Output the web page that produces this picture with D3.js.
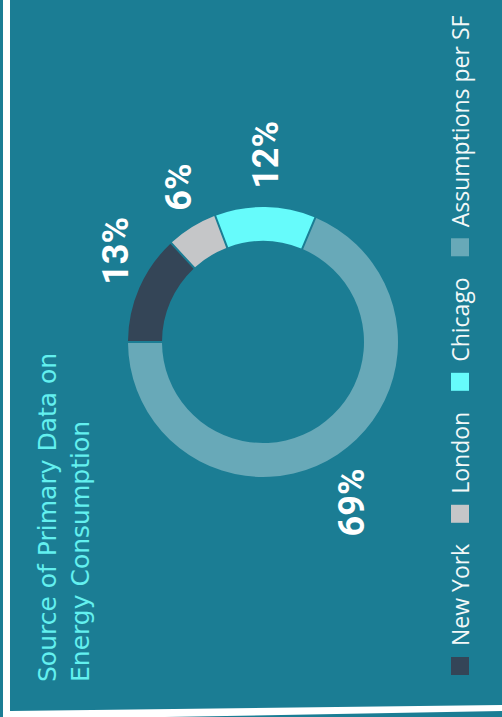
<!DOCTYPE html>
<html>
<head>
<meta charset="utf-8">
<script src="https://cdn.jsdelivr.net/npm/d3@7"></script>
<style>
  html, body { margin: 0; padding: 0; background: #1b7d94; }
  svg { display: block; }
</style>
</head>
<body>
<svg id="chart" width="502" height="717"></svg>
<script>
// data
const categories = ["New York", "London", "Chicago", "Assumptions per SF"];
const values = [13, 6, 12, 69];
const colors = ["#344557", "#c5c6c8", "#66fbfb", "#68a9b8"];
const titleLines = ["Source of Primary Data on", "Energy Consumption"];

const W = 502, H = 717;
const svg = d3.select("#chart");

// background + white frame strip
svg.append("rect").attr("width", W).attr("height", H).attr("fill", "#1b7d94");
svg.append("path")
  .attr("d", "M3,0 L10,0 L10,711 L502,705 L502,711 L165,717 L3,717 Z")
  .attr("fill", "#ffffff");

// donut (drawn in the original orientation, then turned 90deg)
const cx = 263, cy = 342;
const rOuter = 135, rInner = 101, labelR = 160;

const pie = d3.pie().sort(null).value(d => d.value).padAngle(0.012);
const arcs = pie(categories.map((c, i) => ({ name: c, value: values[i], color: colors[i] })));

const arc = d3.arc().innerRadius(rInner).outerRadius(rOuter);
const labelArc = d3.arc().innerRadius(labelR).outerRadius(labelR);

const g = svg.append("g").attr("transform", `translate(${cx},${cy}) rotate(-90)`);

g.selectAll("path.slice")
  .data(arcs)
  .enter()
  .append("path")
  .attr("class", "slice")
  .attr("d", arc)
  .attr("fill", d => d.data.color);

// percent labels: pushed sideways away from the ring
g.selectAll("text.pct")
  .data(arcs)
  .enter()
  .append("text")
  .attr("class", "pct")
  .attr("text-anchor", "middle")
  .attr("dominant-baseline", "central")
  .attr("font-family", "Roboto, sans-serif")
  .attr("font-weight", 700)
  .attr("font-size", "36px")
  .attr("fill", "#ffffff")
  .text(d => d.data.value + "%")
  .each(function(d) {
    const [x, y] = labelArc.centroid(d);
    const w = this.getComputedTextLength();
    const side = x >= 0 ? 1 : -1;
    d3.select(this).attr("x", x + side * w * 0.4).attr("y", y);
  });

// title
const title = svg.append("g").attr("transform", "translate(56,682) rotate(-90)");
titleLines.forEach((t, i) => {
  title.append("text")
    .attr("x", 0)
    .attr("y", i * 33)
    .attr("font-family", "'DejaVu Sans', sans-serif")
    .attr("font-size", "25px")
    .attr("fill", "#63f0ef")
    .text(t);
});

// legend
const legend = svg.append("g").attr("transform", "translate(469,675) rotate(-90)");
let pos = 0;
categories.forEach((c, i) => {
  legend.append("rect")
    .attr("x", pos)
    .attr("y", -18)
    .attr("width", 18)
    .attr("height", 18)
    .attr("fill", colors[i]);
  const txt = legend.append("text")
    .attr("x", pos + 29)
    .attr("y", 0)
    .attr("font-family", "'Open Sans', sans-serif")
    .attr("font-size", "23px")
    .attr("fill", "#f2f8f8")
    .text(c);
  pos += 29 + txt.node().getComputedTextLength() + 21;
});
</script>
</body>
</html>
